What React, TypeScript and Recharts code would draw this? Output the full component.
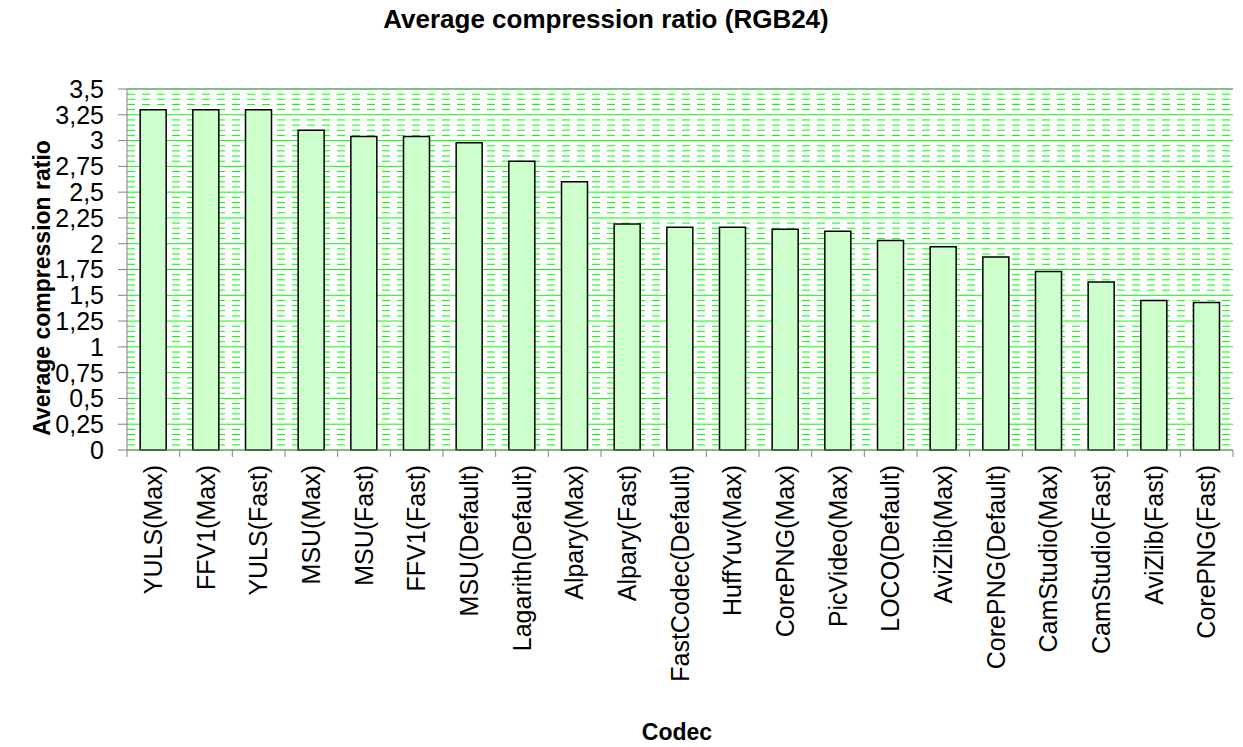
import React from "react";
import { BarChart, Bar, XAxis, YAxis, CartesianGrid, ReferenceLine } from "recharts";

const codecs = [
  "YULS(Max)",
  "FFV1(Max)",
  "YULS(Fast)",
  "MSU(Max)",
  "MSU(Fast)",
  "FFV1(Fast)",
  "MSU(Default)",
  "Lagarith(Default)",
  "Alpary(Max)",
  "Alpary(Fast)",
  "FastCodec(Default)",
  "HuffYuv(Max)",
  "CorePNG(Max)",
  "PicVideo(Max)",
  "LOCO(Default)",
  "AviZlib(Max)",
  "CorePNG(Default)",
  "CamStudio(Max)",
  "CamStudio(Fast)",
  "AviZlib(Fast)",
  "CorePNG(Fast)",
];

const ratios = [
  3.3, 3.3, 3.3, 3.1, 3.04, 3.04, 2.98, 2.8, 2.6, 2.19, 2.16, 2.16, 2.14, 2.12,
  2.03, 1.97, 1.87, 1.73, 1.63, 1.45, 1.43,
];

const yTicks = [0, 0.25, 0.5, 0.75, 1, 1.25, 1.5, 1.75, 2, 2.25, 2.5, 2.75, 3, 3.25, 3.5];

// minor gridlines every 0.05 between the major ticks
const minorLines: number[] = [];
for (let i = 0; i < yTicks.length - 1; i++) {
  for (let k = 1; k < 5; k++) minorLines.push(yTicks[i] + k * 0.05);
}

const data = codecs.map((codec, i) => ({ codec, ratio: ratios[i] }));

const FONT = "'Liberation Sans', Arial, sans-serif";
const AXIS = "#808080";

function CodecTick(props: any) {
  const { x, y, payload, index } = props;
  const half = payload && payload.offset ? payload.offset : 26.3;
  const ty = y + 15;
  return (
    <g>
      <line x1={x - half} y1={y} x2={x - half} y2={y + 7} stroke={AXIS} />
      {index === codecs.length - 1 && (
        <line x1={x + half} y1={y} x2={x + half} y2={y + 7} stroke={AXIS} />
      )}
      <text
        x={x}
        y={ty}
        dy="0.35em"
        transform={`rotate(-90, ${x}, ${ty})`}
        textAnchor="end"
        fontSize={25}
        fontFamily={FONT}
        fill="#000"
      >
        {payload.value}
      </text>
    </g>
  );
}

export default function App() {
  return (
    <div style={{ position: "absolute", left: 0, top: 0, width: 1243, height: 747, background: "#fff" }}>
      <div
        style={{
          position: "absolute",
          left: 0,
          top: 6,
          width: 1212,
          textAlign: "center",
          fontFamily: FONT,
          fontWeight: "bold",
          fontSize: 26,
          lineHeight: "26px",
        }}
      >
        Average compression ratio (RGB24)
      </div>
      <BarChart
        width={1243}
        height={747}
        data={data}
        margin={{ top: 89, right: 10, bottom: 0, left: 0 }}
        barCategoryGap="25%"
      >
        <CartesianGrid
          yAxisId="left"
          vertical={false}
          horizontalValues={minorLines}
          stroke="#00FF00"
          strokeDasharray="8 7"
        />
        <CartesianGrid yAxisId="left" vertical={false} horizontalValues={yTicks} stroke="#00FF00" />
        <XAxis
          dataKey="codec"
          interval={0}
          height={297}
          tickSize={0}
          tickMargin={0}
          tickLine={false}
          axisLine={{ stroke: AXIS }}
          tick={<CodecTick />}
          label={{
            content: () => (
              <text x={677} y={740} textAnchor="middle" fontSize={23} fontWeight="bold" fontFamily={FONT} fill="#000">
                Codec
              </text>
            ),
          }}
        />
        <YAxis
          yAxisId="left"
          width={127}
          domain={[0, 3.5]}
          ticks={yTicks}
          interval={0}
          tickSize={9}
          tickMargin={14}
          tickFormatter={(v: number) => String(v).replace(".", ",")}
          tick={{ fontSize: 25, fill: "#000", fontFamily: FONT }}
          axisLine={{ stroke: AXIS }}
          tickLine={{ stroke: AXIS }}
          label={{
            content: () => (
              <text
                x={50}
                y={288}
                transform="rotate(-90, 50, 288)"
                textAnchor="middle"
                fontSize={23}
                fontWeight="bold"
                fontFamily={FONT}
                fill="#000"
              >
                Average compression ratio
              </text>
            ),
          }}
        />
        <YAxis
          yAxisId="right"
          orientation="right"
          width={0}
          domain={[0, 3.5]}
          tick={false}
          tickLine={false}
          axisLine={{ stroke: AXIS }}
        />
        <ReferenceLine yAxisId="left" y={3.5} stroke={AXIS} />
        <Bar
          yAxisId="left"
          dataKey="ratio"
          fill="#CCFFCC"
          stroke="#000"
          strokeWidth={1.5}
          isAnimationActive={false}
        />
      </BarChart>
    </div>
  );
}
